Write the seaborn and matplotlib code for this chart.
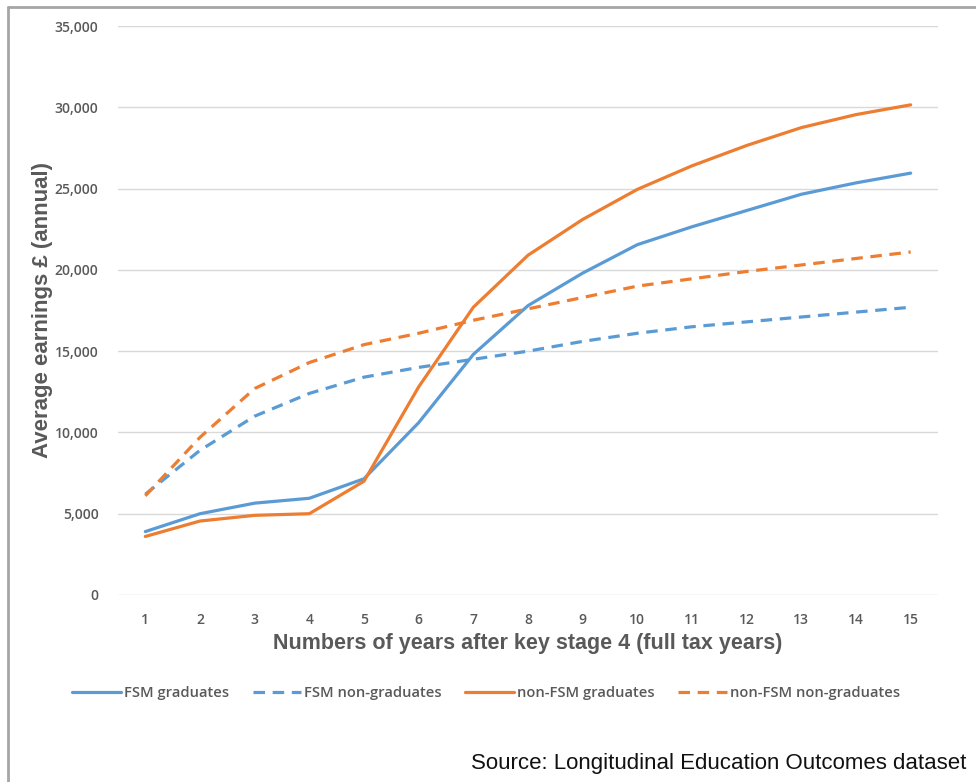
import matplotlib
matplotlib.use("Agg")
import matplotlib.pyplot as plt
import seaborn as sns
import pandas as pd
from matplotlib.lines import Line2D

years = list(range(1, 16))
fsm_grad = [3900, 5000, 5650, 5950, 7150, 10600, 14800, 17800, 19800, 21550, 22650, 23650, 24650, 25350, 25950]
fsm_nongrad = [6200, 8900, 11000, 12400, 13400, 14000, 14500, 15000, 15600, 16100, 16500, 16800, 17100, 17400, 17700]
nonfsm_grad = [3600, 4550, 4900, 5000, 7000, 12800, 17700, 20900, 23100, 24950, 26400, 27650, 28750, 29550, 30150]
nonfsm_nongrad = [6100, 9700, 12700, 14300, 15400, 16100, 16900, 17600, 18300, 19000, 19450, 19900, 20300, 20700, 21100]
series_names = ["FSM graduates", "FSM non-graduates", "non-FSM graduates", "non-FSM non-graduates"]
y_ticks = [0, 5000, 10000, 15000, 20000, 25000, 30000, 35000]

sns.set_theme(style="white")
plt.rcParams['font.family'] = ['Open Sans', 'DejaVu Sans']

BLUE = "#5B9BD5"
ORANGE = "#ED7D31"
GREY = "#595959"

df = pd.DataFrame({
    "year": years * 4,
    "earn": fsm_grad + fsm_nongrad + nonfsm_grad + nonfsm_nongrad,
    "series": sum([[n] * 15 for n in series_names], []),
})

fig = plt.figure(figsize=(9.76, 7.82), dpi=100)
ax = fig.add_axes([118/976, 1 - 595/782, (938-118)/976, (595-26)/782])

palette = {series_names[0]: BLUE, series_names[1]: BLUE, series_names[2]: ORANGE, series_names[3]: ORANGE}
dashes = {series_names[0]: "", series_names[1]: (3.6, 2.4), series_names[2]: "", series_names[3]: (3.6, 2.4)}
sns.lineplot(data=df, x="year", y="earn", hue="series", style="series", palette=palette,
             dashes=dashes, linewidth=2.3, ax=ax, legend=False)

ax.set_xlim(0.5, 15.5)
ax.set_ylim(0, 35000)
ax.set_yticks(y_ticks)
ax.set_yticklabels([f"{v:,}" for v in y_ticks])
ax.set_xticks(years)
ax.set_xticklabels([str(y) for y in years])
ax.grid(axis="y", color="#D9D9D9", linewidth=1.0)
ax.grid(axis="x", visible=False)
ax.set_axisbelow(True)
for s in ax.spines.values():
    s.set_visible(False)
ax.tick_params(axis="both", length=0, colors=GREY, labelsize=10)
ax.tick_params(axis="y", pad=14)
ax.tick_params(axis="x", pad=13)
for lbl in ax.get_xticklabels() + ax.get_yticklabels():
    lbl.set_fontweight("semibold")

ax.set_xlabel("Numbers of years after key stage 4 (full tax years)", fontsize=15.5,
              fontweight="bold", color=GREY, family=["Liberation Sans", "DejaVu Sans"], labelpad=4)
ax.set_ylabel("Average earnings £ (annual)", fontsize=16, fontweight="bold", color=GREY,
              family=["Liberation Sans", "DejaVu Sans"], labelpad=1)

handles = [Line2D([], [], color=BLUE, lw=2.3),
           Line2D([], [], color=BLUE, lw=2.3, dashes=(3.6, 2.4)),
           Line2D([], [], color=ORANGE, lw=2.3),
           Line2D([], [], color=ORANGE, lw=2.3, dashes=(3.6, 2.4))]
leg = fig.legend(handles, series_names, loc="center", bbox_to_anchor=(486/976, 1 - 693/782),
                 ncol=4, frameon=False, fontsize=10.6, handlelength=3.3, handletextpad=0.2,
                 columnspacing=1.6)
for t in leg.get_texts():
    t.set_color(GREY)
    t.set_fontweight("semibold")

fig.text(966/976, 1 - 763/782, "Source: Longitudinal Education Outcomes dataset", ha="right", va="center",
         fontsize=16, color="#111111", family=["Liberation Sans", "DejaVu Sans"])

fig.add_artist(Line2D([8/976, 8/976], [0, 1 - 7/782], color="#A6A6A6", lw=2, transform=fig.transFigure))
fig.add_artist(Line2D([8/976, 1], [1 - 7/782, 1 - 7/782], color="#A6A6A6", lw=2, transform=fig.transFigure))

fig.savefig("out.png", dpi=100)
